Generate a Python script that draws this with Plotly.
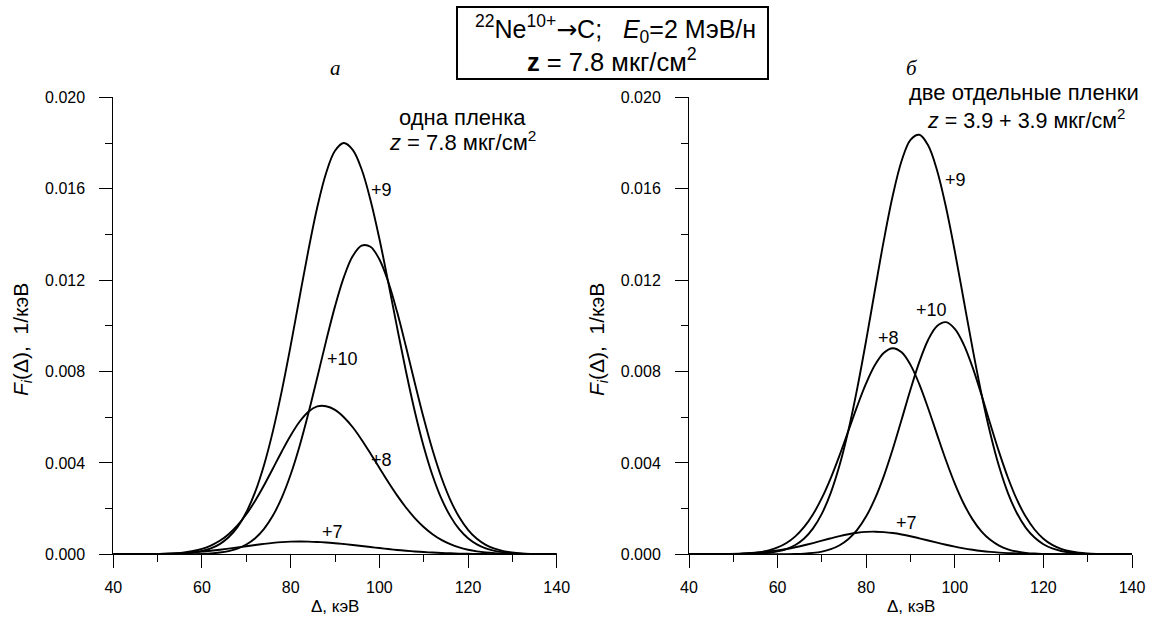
import plotly.graph_objects as go

# Energy loss grid (keV)
delta = [40, 44, 48, 52, 56, 58, 60, 62, 64, 66, 68, 70, 72, 74, 76, 78, 80, 82, 84,
         86, 88, 90, 92, 94, 96, 98, 100, 102, 104, 106, 108, 110, 112, 114, 116,
         118, 120, 122, 124, 126, 128, 132, 136, 140]

# Panel a: one foil, z = 7.8 ug/cm2
a_q9 = [0, 0, 0.000002, 0.0000095, 0.00004, 0.0000774, 0.000144, 0.000259, 0.000447,
        0.000744, 0.00119, 0.00184, 0.00273, 0.00391, 0.00539, 0.00715, 0.00913,
        0.01124, 0.01331, 0.01519, 0.01669, 0.01766, 0.0180, 0.0177, 0.01685,
        0.01551, 0.01382, 0.01191, 0.00993, 0.00801, 0.00625, 0.00472, 0.00345,
        0.002436, 0.00167, 0.0011, 0.000705, 0.000437, 0.000262, 0.000151,
        0.000085, 0.000024, 0.000006, 0.000001]
a_q10 = [0, 0, 0, 0.000001, 0.0000045, 0.0000098, 0.00002, 0.00004, 0.000077,
         0.000142, 0.000252, 0.00043, 0.000706, 0.001114, 0.001694, 0.002481,
         0.00349, 0.00473, 0.00617, 0.00774, 0.00934, 0.01085, 0.01213, 0.01305,
         0.01351, 0.01346, 0.01291, 0.01193, 0.01061, 0.00909, 0.0075, 0.00596,
         0.00456, 0.00336, 0.002385, 0.00163, 0.001073, 0.000679, 0.000415,
         0.000244, 0.000138, 0.000039, 0.00001, 0.000002]
a_q8 = [0.0000003, 0.0000015, 0.0000066, 0.000025, 0.000083, 0.000143, 0.000238,
        0.000382, 0.00059, 0.00088, 0.001264, 0.001752, 0.002343, 0.00302, 0.003755,
        0.0045, 0.0052, 0.0058, 0.00624, 0.00647, 0.00648, 0.00632, 0.006, 0.00556,
        0.005016, 0.00441, 0.003785, 0.003164, 0.002578, 0.002048, 0.001585,
        0.001196, 0.00088, 0.00063, 0.000441, 0.0003, 0.0002, 0.000129, 0.000081,
        0.00005, 0.00003, 0.00001, 0.000003, 0.000001]
a_q7 = [0.000002, 0.0000055, 0.0000139, 0.0000314, 0.0000644, 0.0000886, 0.000119,
        0.000156, 0.000199, 0.000247, 0.000299, 0.000353, 0.000407, 0.000456,
        0.000499, 0.000532, 0.000553, 0.00056, 0.000555, 0.00054, 0.000517,
        0.000486, 0.000448, 0.000407, 0.000362, 0.000317, 0.000273, 0.00023,
        0.000191, 0.000156, 0.000125, 0.0000981, 0.000076, 0.0000575, 0.000043,
        0.0000314, 0.000023, 0.000016, 0.000011, 0.0000076, 0.000005, 0.000002,
        0.000001, 0]

# Panel b: two separate foils, z = 3.9 + 3.9 ug/cm2
b_q9 = [0, 0, 0.0000014, 0.0000072, 0.000033, 0.000065, 0.000125, 0.00023, 0.000407,
        0.000693, 0.001134, 0.001782, 0.00269, 0.003904, 0.00544, 0.007285, 0.00937,
        0.01159, 0.01376, 0.0157, 0.01722, 0.01814, 0.01836, 0.01789, 0.0168,
        0.0152, 0.01326, 0.01114, 0.00902, 0.00704, 0.0053, 0.00384, 0.00268,
        0.001806, 0.00117, 0.000733, 0.000441, 0.000256, 0.000143, 0.000077,
        0.00004, 0.00001, 0.000002, 0]
b_q10 = [0, 0, 0, 0, 0.0000004, 0.0000011, 0.0000028, 0.0000064, 0.0000143,
         0.0000305, 0.000062, 0.00012, 0.000223, 0.000395, 0.000668, 0.001078,
         0.001661, 0.002443, 0.003433, 0.004605, 0.005898, 0.00721, 0.00842,
         0.00939, 0.00999, 0.01016, 0.00987, 0.00919, 0.00819, 0.00699, 0.00571,
         0.00447, 0.00335, 0.0024, 0.00165, 0.001086, 0.000684, 0.000413, 0.000238,
         0.000132, 0.00007, 0.000017, 0.000004, 0.000001]
b_q8 = [0.0000002, 0.0000013, 0.0000064, 0.000027, 0.000097, 0.000174, 0.000299,
        0.000494, 0.000785, 0.001197, 0.001753, 0.002468, 0.003338, 0.004339,
        0.005417, 0.006497, 0.007489, 0.008293, 0.008823, 0.00902, 0.00884,
        0.008291, 0.00744, 0.006383, 0.00524, 0.004116, 0.003094, 0.002223,
        0.001529, 0.001006, 0.000633, 0.000381, 0.000219, 0.000121, 0.000064,
        0.000032, 0.000016, 0.000007, 0.000003, 0.0000015, 0.000001, 0, 0, 0]
b_q7 = [0.0000013, 0.0000047, 0.0000139, 0.000036, 0.000083, 0.00012, 0.00017,
        0.000232, 0.000307, 0.000395, 0.000492, 0.000595, 0.000699, 0.000796,
        0.000879, 0.000943, 0.00098, 0.00099, 0.000972, 0.000931, 0.000868, 0.00079,
        0.0007, 0.000605, 0.00051, 0.000419, 0.000335, 0.000261, 0.000199, 0.000147,
        0.000106, 0.000075, 0.000051, 0.0000344, 0.000022, 0.0000143, 0.0000088,
        0.0000053, 0.000003, 0.0000018, 0.000001, 0, 0, 0]

# Curve labels: (text, x, y)
a_labels = [("+9", 100.4, 0.01596), ("+10", 91.6, 0.00856),
            ("+8", 100.5, 0.00413), ("+7", 89.4, 0.00097)]
b_labels = [("+9", 100.2, 0.01636), ("+10", 94.7, 0.0107),
            ("+8", 85.1, 0.00948), ("+7", 89.1, 0.00138)]

x_ticks = [40, 60, 80, 100, 120, 140]
x_minor = [50, 70, 90, 110, 130]
y_ticks = [0.000, 0.004, 0.008, 0.012, 0.016, 0.020]
y_ticktext = ["0.000", "0.004", "0.008", "0.012", "0.016", "0.020"]
y_minor = [0.002, 0.006, 0.010, 0.014, 0.018]

W, H = 1152, 619
FONT = "Liberation Sans, Arial, sans-serif"
SERIF = "Liberation Serif, Times New Roman, serif"

def px(x):
    return x / W

def py(y):
    return 1 - y / H

fig = go.Figure()
line = dict(color="black", width=1.9, shape="spline", smoothing=1)
for ys in (a_q9, a_q10, a_q8, a_q7):
    fig.add_trace(go.Scatter(x=delta, y=ys, mode="lines", line=line,
                             xaxis="x", yaxis="y", showlegend=False, hoverinfo="skip"))
for ys in (b_q9, b_q10, b_q8, b_q7):
    fig.add_trace(go.Scatter(x=delta, y=ys, mode="lines", line=line,
                             xaxis="x2", yaxis="y2", showlegend=False, hoverinfo="skip"))

xdom1 = [px(113.3), px(556.7)]
xdom2 = [px(689), px(1132)]
ydom = [py(554.3), py(97.3)]

def xax(dom, anchor):
    return dict(domain=dom, anchor=anchor, range=[40, 140], tickvals=x_ticks,
                showline=True, linecolor="black", linewidth=1, ticks="outside",
                ticklen=13, tickwidth=1, tickcolor="black", showgrid=False,
                zeroline=False, ticklabelstandoff=5, automargin=False,
                tickfont=dict(family=FONT, size=16, color="black"),
                minor=dict(tickvals=x_minor, ticks="outside",
                           ticklen=7, tickcolor="black", tickwidth=1, showgrid=False))

def yax(anchor):
    return dict(domain=ydom, anchor=anchor, range=[0, 0.020], tickvals=y_ticks,
                ticktext=y_ticktext, showline=True, linecolor="black", linewidth=1,
                ticks="outside", ticklen=13, tickwidth=1, tickcolor="black",
                showgrid=False, zeroline=False, ticklabelstandoff=11, automargin=False,
                tickfont=dict(family=FONT, size=16, color="black"),
                minor=dict(tickvals=y_minor, ticks="outside",
                           ticklen=7, tickcolor="black", tickwidth=1, showgrid=False))

annotations = []
def txt(text, x, y, size, family=FONT, xref="paper", yref="paper", angle=0):
    annotations.append(dict(text=text, x=x, y=y, xref=xref, yref=yref,
                            showarrow=False, textangle=angle,
                            xanchor="center", yanchor="middle",
                            font=dict(family=family, size=size, color="black")))

for t, x, y in a_labels:
    txt(t, x, y, 18, xref="x", yref="y")
for t, x, y in b_labels:
    txt(t, x, y, 18, xref="x2", yref="y2")

# Title box
nb = "\u00a0"
arrow = "<span style=\"font-family:'DejaVu Sans'\">→</span>"
txt("<sup>22</sup>Ne<sup>10+</sup>" + arrow + "C;" + nb * 3 + "<i>E</i><sub>0</sub>=2 МэВ/н",
    px(615), py(29), 25)
txt("<b>z</b> = 7.8 мкг/см<sup>2</sup>", px(612), py(60), 25.5)

# Panel letters
txt("<i>а</i>", px(335), py(68), 21, family=SERIF)
txt("<i>б</i>", px(912), py(68), 21, family=SERIF)

# Panel notes
txt("одна пленка", px(462), py(118), 22)
txt("<i>z</i> = 7.8 мкг/см<sup>2</sup>", px(462), py(141), 22)
txt("две отдельные пленки", px(1024), py(93), 22)
txt("<i>z</i> = 3.9 + 3.9 мкг/см<sup>2</sup>", px(1026), py(119), 21.5)

# Axis titles
for cx in (335, 910.5):
    txt("Δ, кэВ", px(cx), py(606), 17)
for cx in (22, 598):
    txt("<i>F</i><sub><i>i</i></sub>(Δ)," + nb * 2 + "1/кэВ", px(cx), py(340), 21, angle=-90)

fig.update_layout(
    width=W, height=H,
    margin=dict(l=0, r=0, t=0, b=0, pad=0, autoexpand=False),
    paper_bgcolor="white", plot_bgcolor="white",
    xaxis=xax(xdom1, "y"), yaxis=yax("x"),
    xaxis2=xax(xdom2, "y2"), yaxis2=yax("x2"),
    annotations=annotations,
    shapes=[dict(type="rect", xref="paper", yref="paper",
                 x0=px(457), x1=px(768), y0=py(79), y1=py(7),
                 line=dict(color="black", width=2))],
    showlegend=False,
)

fig.write_html("out.html",
               config={"displayModeBar": False},
               post_script="document.body.style.margin='0px';"
                           "document.body.style.overflow='hidden';")
